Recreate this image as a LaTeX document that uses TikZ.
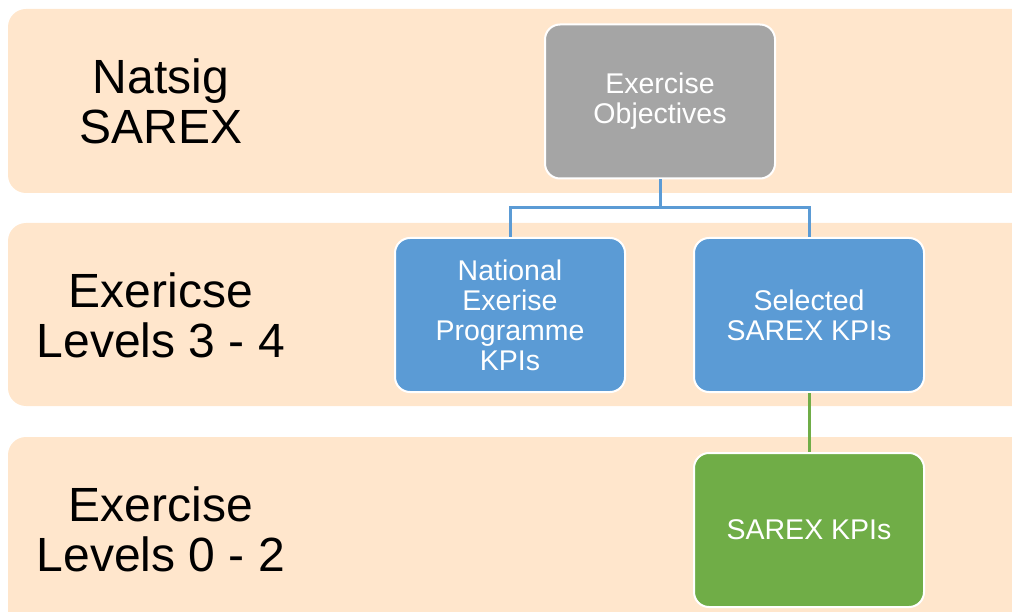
\documentclass[tikz,border=0pt]{standalone}
\usepackage{fontspec}
\setmainfont{Liberation Sans}
\definecolor{bandfill}{RGB}{255,230,204}
\definecolor{objgray}{RGB}{165,165,165}
\definecolor{kpiblue}{RGB}{91,155,213}
\definecolor{kpigreen}{RGB}{112,173,71}
\tikzset{
  BandStyle/.style = { fill = bandfill, rounded corners = 18pt },
  LevelStyle/.style = { align = center, text = black,
                        font = \fontsize{48}{50}\selectfont },
  BoxStyle/.style = { rectangle, rounded corners = 15pt, draw = white,
                      line width = 2pt, minimum width = 230pt,
                      minimum height = 154pt, align = center, text = white,
                      font = \fontsize{28.5}{30}\selectfont },
  EdgeStyle/.style = { line width = 3pt } }

\begin{document}
\begin{tikzpicture}[x=1pt, y=-1pt]
  \useasboundingbox (0,0) rectangle (1012,612);
  \fill[BandStyle] (8,9) rectangle (1040,193);
  \fill[BandStyle] (8,223) rectangle (1040,406);
  \fill[BandStyle] (8,437) rectangle (1040,640);

  \node[LevelStyle](NATSIG) at (161,101) {Natsig\\SAREX};
  \node[LevelStyle](LVL34) at (161,315) {Exericse\\Levels 3 - 4};
  \node[LevelStyle](LVL02) at (161,529) {Exercise\\Levels 0 - 2};

  \node[BoxStyle, fill=objgray](OBJ) at (660,101.5) {Exercise\\Objectives};
  \node[BoxStyle, fill=kpiblue](NEP) at (510,315) {National\\Exerise\\Programme\\KPIs};
  \node[BoxStyle, fill=kpiblue](SEL) at (809,315) {Selected\\SAREX KPIs};
  \node[BoxStyle, fill=kpigreen](SKPI) at (809,530) {SAREX KPIs};
  \coordinate (FORK) at (660,208);

  \draw[EdgeStyle, kpiblue] (OBJ.south) -- (FORK) -| (NEP.north);
  \draw[EdgeStyle, kpiblue] (FORK) -| (SEL.north);
  \draw[EdgeStyle, kpigreen] (SEL.south) -- (SKPI.north);
\end{tikzpicture}
\end{document}
